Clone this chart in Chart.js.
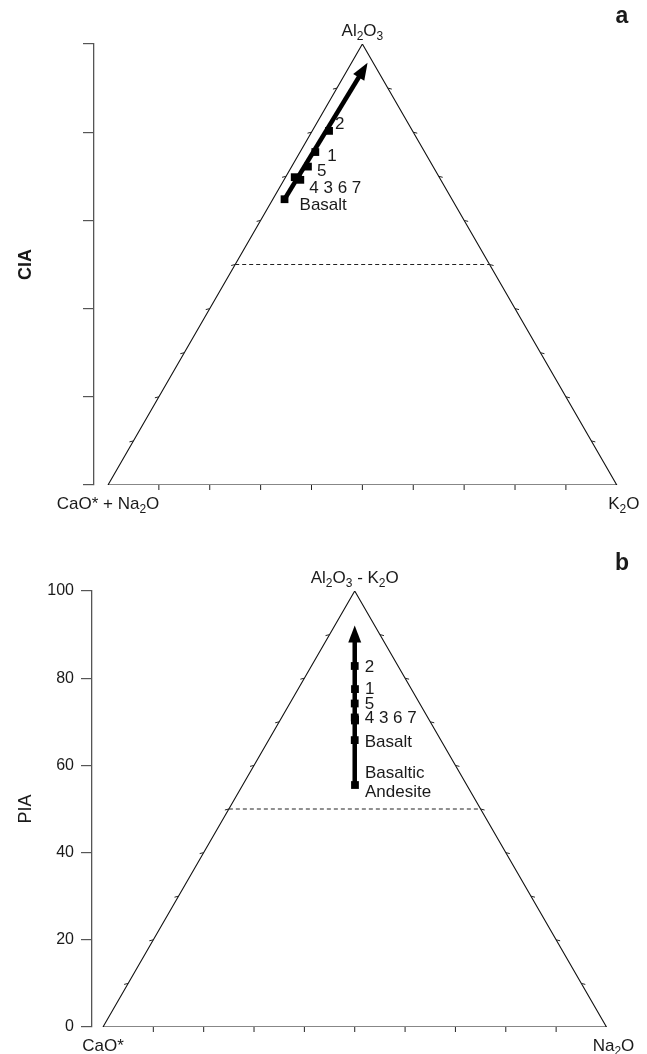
<!DOCTYPE html>
<html><head><meta charset="utf-8">
<script src="https://cdn.jsdelivr.net/npm/chart.js@4.4.0/dist/chart.umd.min.js"></script>
<style>body{margin:0;background:#fff}canvas{display:block}</style>
</head><body>
<canvas id="ca" width="647" height="527"></canvas>
<canvas id="cb" width="647" height="527"></canvas>
<script>
// ---------- DATA ----------
// Panel a: A-CN-K ternary (molar %), top = Al2O3, right = K2O
const samplesA = ['Basalt', '4', '3', '6', '7', '5', '1', '2'];
const al2o3A   = [64.8, 69.8, 69.2, 69.5, 69.5, 72.2, 75.5, 80.3];
const k2oA     = [2.3, 1.8, 3.2, 2.5, 2.5, 3.2, 3.0, 3.3];
const arrowAl2o3A = [64.8, 94.0];
const arrowK2oA   = [2.3, 3.1];
const labelsA   = ['2', '1', '5', '4 3 6 7', 'Basalt'];
const labelAnchorA = ['2', '1', '5', '3', 'Basalt'];

// Panel b: (Al2O3-K2O)-CaO*-Na2O ternary, top = PIA, right = Na2O
const samplesB = ['Basaltic Andesite', 'Basalt', '4', '3', '6', '7', '5', '1', '2'];
const piaB     = [55.5, 65.8, 71.0, 70.3, 70.5, 70.5, 74.2, 77.5, 82.8];
const na2oB    = [22.3, 17.1, 14.5, 14.9, 14.8, 14.8, 12.9, 11.3, 8.6];
const arrowPiaB  = [55.5, 90.0];
const arrowNa2oB = [22.3, 5.0];
const labelsB   = ['2', '1', '5', '4 3 6 7', 'Basalt', 'Basaltic', 'Andesite'];
const labelAnchorB = ['2', '1', '5', '4', 'Basalt', 'Basaltic Andesite', 'Basaltic Andesite'];

const yTickValues = [0, 20, 40, 60, 80, 100];
const dividerLevel = 50;
const edgeTickLevels = [10, 20, 30, 40, 50, 60, 70, 80, 90];

// ---------- HELPERS ----------
const FONT = '"Liberation Sans", Arial, sans-serif';
function tern(top, right) { return { x: right + top / 2, y: top }; }

function parseRich(s) {
  const segs = [];
  for (let i = 0; i < s.length; i++) {
    if (s[i] === '_') { segs.push({ t: s[i + 1], sub: true }); i++; }
    else {
      if (segs.length && !segs[segs.length - 1].sub) segs[segs.length - 1].t += s[i];
      else segs.push({ t: s[i], sub: false });
    }
  }
  return segs;
}
function drawRich(ctx, str, x, y, size, align, weight) {
  const segs = parseRich(str);
  const sub = Math.round(size * 0.72);
  let w = 0;
  segs.forEach(s => { ctx.font = (weight || '') + ' ' + (s.sub ? sub : size) + 'px ' + FONT; s.w = ctx.measureText(s.t).width; w += s.w; });
  let cx = align === 'center' ? x - w / 2 : (align === 'right' ? x - w : x);
  ctx.textAlign = 'left'; ctx.textBaseline = 'alphabetic'; ctx.fillStyle = '#1a1a1a';
  segs.forEach(s => { ctx.font = (weight || '') + ' ' + (s.sub ? sub : size) + 'px ' + FONT; ctx.fillText(s.t, cx, s.sub ? y + 4 : y); cx += s.w; });
}

function makeChart(id, cfg) {
  const pts = cfg.tops.map((t, i) => tern(t, cfg.rights[i]));
  const arrow = cfg.arrowTops.map((t, i) => tern(t, cfg.arrowRights[i]));
  const tri = [tern(0, 0), tern(0, 100), tern(100, 0), tern(0, 0)];
  const divider = [tern(dividerLevel, 0), tern(dividerLevel, 100 - dividerLevel)];

  const overlay = {
    id: 'overlay',
    afterDatasetsDraw(chart) {
      const ctx = chart.ctx, xs = chart.scales.x, ys = chart.scales.y;
      const px = p => ({ x: xs.getPixelForValue(p.x), y: ys.getPixelForValue(p.y) });
      ctx.save();
      // edge ticks
      ctx.strokeStyle = '#222'; ctx.lineWidth = 1;
      ctx.beginPath();
      edgeTickLevels.forEach(v => {
        const b = px(tern(0, v)); ctx.moveTo(b.x, b.y); ctx.lineTo(b.x, b.y + 5);
        const l = px(tern(v, 0)); ctx.moveTo(l.x, l.y); ctx.lineTo(l.x - 4, l.y + 1);
        const r = px(tern(v, 100 - v)); ctx.moveTo(r.x, r.y); ctx.lineTo(r.x + 4, r.y + 1);
      });
      ctx.stroke();
      // arrow head
      const a0 = px(arrow[0]), a1 = px(arrow[arrow.length - 1]);
      const dx = a1.x - a0.x, dy = a1.y - a0.y, L = Math.hypot(dx, dy);
      const ux = dx / L, uy = dy / L, nx = -uy, ny = ux;
      const tip = { x: a1.x + ux * 9, y: a1.y + uy * 9 };
      const base = { x: a1.x - ux * 8, y: a1.y - uy * 8 };
      ctx.fillStyle = '#000';
      ctx.beginPath();
      ctx.moveTo(tip.x, tip.y);
      ctx.lineTo(base.x + nx * 6.5, base.y + ny * 6.5);
      ctx.lineTo(base.x - nx * 6.5, base.y - ny * 6.5);
      ctx.closePath(); ctx.fill();
      // vertex labels
      const top = px(tern(100, 0)), bl = px(tern(0, 0)), br = px(tern(0, 100));
      drawRich(ctx, cfg.topLabel, top.x, top.y - 8, 17, 'center');
      drawRich(ctx, cfg.leftLabel, bl.x, bl.y + 24, 17, 'center');
      drawRich(ctx, cfg.rightLabel, br.x + 7, br.y + 24, 17, 'center');
      // sample labels
      cfg.labels.forEach((t, i) => {
        const idx = cfg.samples.indexOf(cfg.anchors[i]);
        const p = px(pts[idx]);
        drawRich(ctx, t, p.x + cfg.offsets[i][0], p.y + cfg.offsets[i][1], 17, 'left');
      });
      // panel letter
      drawRich(ctx, cfg.panel, 622, cfg.panelY, 23, 'center', 'bold');
      ctx.restore();
    }
  };

  return new Chart(document.getElementById(id), {
    type: 'scatter',
    data: {
      datasets: [
        { data: pts, pointStyle: 'rect', pointRadius: 5.5, backgroundColor: '#000', borderColor: '#000', borderWidth: 0, showLine: false },
        { data: arrow, showLine: true, borderColor: '#000', borderWidth: 4.5, pointRadius: 0, borderCapStyle: 'butt' },
        { data: divider, showLine: true, borderColor: '#222', borderWidth: 1.2, borderDash: [4, 3], pointRadius: 0 },
        { data: tri, showLine: true, borderColor: '#111', borderWidth: 1.1, pointRadius: 0, borderJoinStyle: 'miter' }
      ]
    },
    options: {
      responsive: false, animation: false, devicePixelRatio: 1,
      layout: { padding: cfg.padding },
      plugins: { legend: { display: false }, tooltip: { enabled: false } },
      elements: { line: { tension: 0 } },
      scales: {
        x: { type: 'linear', display: false, min: cfg.xmin, max: cfg.xmax },
        y: {
          type: 'linear', min: 0, max: 100,
          afterFit(s) { s.width = cfg.axisWidth; },
          afterBuildTicks(s) { s.ticks = yTickValues.map(v => ({ value: v })); },
          ticks: { display: cfg.showTickLabels, padding: 7, color: '#1a1a1a', font: { family: FONT, size: 16 } },
          grid: { drawOnChartArea: false, drawTicks: true, tickLength: 11, color: '#555', lineWidth: 1.2 },
          border: { display: true, color: '#555', width: 1.3 },
          title: { display: true, text: cfg.yTitle, color: '#1a1a1a', padding: { top: 15, bottom: 0 },
                   font: { family: FONT, size: 18, weight: cfg.yTitleWeight } }
        }
      }
    },
    plugins: [overlay]
  });
}

makeChart('ca', {
  tops: al2o3A, rights: k2oA, arrowTops: arrowAl2o3A, arrowRights: arrowK2oA,
  samples: samplesA, labels: labelsA, anchors: labelAnchorA,
  offsets: [[6, -2], [12, 9], [9, 9], [9, 13], [15, 11]],
  topLabel: 'Al_2O_3', leftLabel: 'CaO* + Na_2O', rightLabel: 'K_2O',
  panel: 'a', panelY: 23,
  padding: { top: 44, bottom: 42, left: 0, right: 17 },
  xmin: -2.75, xmax: 102.6, axisWidth: 94,
  showTickLabels: false, yTitle: 'CIA', yTitleWeight: 'bold'
});

makeChart('cb', {
  tops: piaB, rights: na2oB, arrowTops: arrowPiaB, arrowRights: arrowNa2oB.map((v, i) => v),
  samples: samplesB, labels: labelsB, anchors: labelAnchorB,
  offsets: [[10, 6], [10, 5], [10, 6], [10, 6], [10, 7], [10, -7], [10, 12]],
  topLabel: 'Al_2O_3 - K_2O', leftLabel: 'CaO*', rightLabel: 'Na_2O',
  panel: 'b', panelY: 43,
  padding: { top: 64, bottom: 27, left: 0, right: 17 },
  xmin: -2.18, xmax: 104.67, axisWidth: 92,
  showTickLabels: true, yTitle: 'PIA', yTitleWeight: 'normal'
});
</script>
</body></html>
